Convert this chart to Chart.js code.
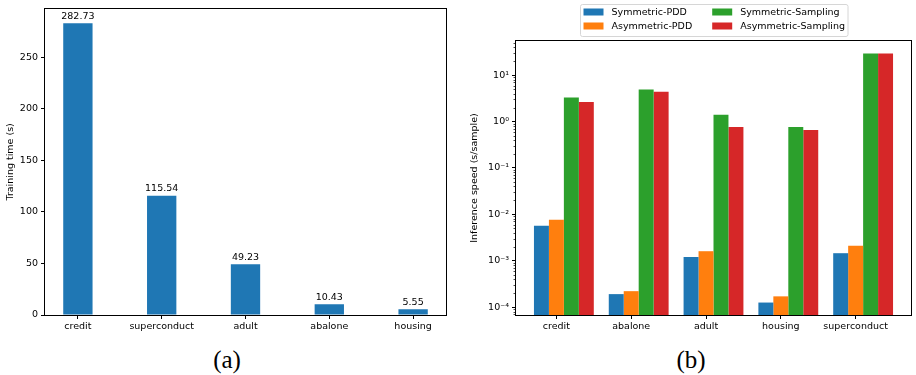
<!DOCTYPE html>
<html>
<head>
<meta charset="utf-8">
<script src="https://cdn.jsdelivr.net/npm/chart.js@4.4.1/dist/chart.umd.min.js"></script>
<style>
  body { margin: 0; background: #fff; width: 916px; height: 375px; position: relative; overflow: hidden; }
  .panel { position: absolute; top: 0; }
  .caption { position: absolute; font-family: 'Liberation Serif', serif; font-size: 25px; line-height: 1; text-align: center; width: 80px; color: #000; }
</style>
</head>
<body>
<div class="panel" style="left:0"><canvas id="train" width="460" height="340"></canvas></div>
<div class="panel" style="left:460px"><canvas id="infer" width="456" height="340"></canvas></div>
<div class="caption" style="left:187px; top:347px">(a)</div>
<div class="caption" style="left:651px; top:347px">(b)</div>
<script>
// (a) training time per dataset
const trainCategories = ['credit', 'superconduct', 'adult', 'abalone', 'housing'];
const trainTimes = [282.73, 115.54, 49.23, 10.43, 5.55];
const trainYTicks = [0, 50, 100, 150, 200, 250];

// (b) inference speed, s/sample
const inferCategories = ['credit', 'abalone', 'adult', 'housing', 'superconduct'];
const symmetricPdd = [5.7e-3, 1.9e-4, 1.2e-3, 1.25e-4, 1.45e-3];
const asymmetricPdd = [7.6e-3, 2.2e-4, 1.6e-3, 1.7e-4, 2.1e-3];
const symmetricSampling = [3.3, 4.9, 1.4, 0.76, 29.5];
const asymmetricSampling = [2.65, 4.4, 0.76, 0.66, 29.5];
const inferYTicks = [-4, -3, -2, -1, 0, 1];

const FONT = 'DejaVu Sans';
Chart.defaults.font.family = FONT;
Chart.defaults.font.size = 9.5;
Chart.defaults.color = '#000';
Chart.defaults.animation = false;

const SUP = { '-': '\u207b', '0': '\u2070', '1': '\u00b9', '2': '\u00b2', '3': '\u00b3', '4': '\u2074',
  '5': '\u2075', '6': '\u2076', '7': '\u2077', '8': '\u2078', '9': '\u2079' };
const sup = (n) => String(n).split('').map(c => SUP[c]).join('');

// matplotlib draws all four spines
const framePlugin = {
  id: 'frame',
  afterDatasetsDraw(chart) {
    const { ctx, chartArea: a } = chart;
    ctx.save();
    ctx.strokeStyle = '#000';
    ctx.lineWidth = 1;
    const l = Math.round(a.left) - 0.5, t = Math.round(a.top) - 0.5;
    const r = Math.round(a.right) + 0.5, b = Math.round(a.bottom) + 0.5;
    ctx.strokeRect(l, t, r - l, b - t);
    ctx.restore();
  }
};

const barLabelPlugin = {
  id: 'barLabels',
  afterDatasetsDraw(chart) {
    const { ctx } = chart;
    ctx.save();
    ctx.font = '9.5px "' + FONT + '"';
    ctx.fillStyle = '#000';
    ctx.textAlign = 'center';
    ctx.textBaseline = 'alphabetic';
    chart.getDatasetMeta(0).data.forEach((bar, i) => {
      ctx.fillText(trainTimes[i].toFixed(2), bar.x, bar.y - 4.5);
    });
    ctx.restore();
  }
};

const minorTickPlugin = {
  id: 'minorTicks',
  afterDraw(chart) {
    const { ctx } = chart;
    const y = chart.scales.y;
    ctx.save();
    ctx.strokeStyle = '#000';
    ctx.lineWidth = 0.7;
    ctx.beginPath();
    for (let e = Math.floor(Math.log10(y.min)); e <= Math.ceil(Math.log10(y.max)); e++) {
      for (let m = 2; m <= 9; m++) {
        const v = m * Math.pow(10, e);
        if (v < y.min || v > y.max) continue;
        const py = Math.round(y.getPixelForValue(v)) + 0.5;
        ctx.moveTo(y.right - 2.5, py);
        ctx.lineTo(y.right, py);
      }
    }
    ctx.stroke();
    ctx.restore();
  }
};

// two-column legend laid out column-first, like matplotlib ncol=2
const gridLegendPlugin = {
  id: 'gridLegend',
  afterDraw(chart) {
    const { ctx, chartArea: a } = chart;
    const sets = chart.data.datasets;
    const rows = 2, cols = Math.ceil(sets.length / rows);
    const handleW = 20, handleH = 7, textPad = 8, colGap = 20, pad = 3;
    ctx.save();
    ctx.font = '9.5px "' + FONT + '"';
    const colWidths = [];
    for (let c = 0; c < cols; c++) {
      let w = 0;
      for (let r = 0; r < rows; r++) {
        const ds = sets[c * rows + r];
        if (ds) w = Math.max(w, ctx.measureText(ds.label).width);
      }
      colWidths.push(handleW + textPad + w);
    }
    const boxW = pad * 2 + colWidths.reduce((s, w) => s + w, 0) + colGap * (cols - 1);
    const boxH = 32, boxTop = 4.5;
    const boxLeft = Math.round((a.left + a.right) / 2 - boxW / 2) + 0.5;

    ctx.beginPath();
    ctx.roundRect(boxLeft, boxTop, boxW, boxH, 2);
    ctx.fillStyle = 'rgba(255,255,255,0.8)';
    ctx.fill();
    ctx.strokeStyle = '#d6d6d6';
    ctx.lineWidth = 1;
    ctx.stroke();

    ctx.textBaseline = 'middle';
    ctx.textAlign = 'left';
    let x = boxLeft + pad;
    for (let c = 0; c < cols; c++) {
      for (let r = 0; r < rows; r++) {
        const ds = sets[c * rows + r];
        if (!ds) continue;
        const cy = boxTop + 7.5 + r * 14;
        ctx.fillStyle = ds.backgroundColor;
        ctx.fillRect(x, cy - handleH / 2, handleW, handleH);
        ctx.fillStyle = '#000';
        ctx.fillText(ds.label, x + handleW + textPad, cy + 0.5);
      }
      x += colWidths[c] + colGap;
    }
    ctx.restore();
  }
};

const tickGrid = { display: true, drawOnChartArea: false, drawTicks: true, tickLength: 4, color: '#000', lineWidth: 1, offset: false };

// ---- (a) ----
const trainBarWidth = 0.35;
const trainPadX = 0.05 * ((trainCategories.length - 1) + trainBarWidth);
new Chart(document.getElementById('train'), {
  type: 'bar',
  data: {
    datasets: [{
      label: 'Training time',
      data: trainTimes.map((v, i) => ({ x: i, y: v })),
      backgroundColor: '#1f77b4',
      categoryPercentage: 1,
      barPercentage: trainBarWidth
    }]
  },
  options: {
    responsive: false,
    devicePixelRatio: 1,
    layout: { padding: { top: 3, right: 14, left: 0, bottom: 0 } },
    plugins: { legend: { display: false }, tooltip: { enabled: false } },
    scales: {
      x: {
        type: 'linear',
        offset: false,
        bounds: 'data',
        min: -trainBarWidth / 2 - trainPadX,
        max: trainCategories.length - 1 + trainBarWidth / 2 + trainPadX,
        afterBuildTicks: (s) => { s.ticks = trainCategories.map((_, i) => ({ value: i })); },
        afterFit: (s) => { s.height = 25; },
        grid: tickGrid,
        border: { display: false },
        ticks: { maxRotation: 0, autoSkip: false, padding: 2, callback: (v) => trainCategories[v] }
      },
      y: {
        bounds: 'data',
        min: 0,
        max: Math.max(...trainTimes) * 1.05,
        afterBuildTicks: (s) => { s.ticks = trainYTicks.map(v => ({ value: v })); },
        afterFit: (s) => { s.width = 45; },
        grid: tickGrid,
        border: { display: false },
        ticks: { padding: 3 },
        title: { display: true, text: 'Training time (s)', padding: { top: 5, bottom: 0 } }
      }
    }
  },
  plugins: [barLabelPlugin, framePlugin]
});

// ---- (b) ----
const inferSeries = [
  ['Symmetric-PDD', symmetricPdd, '#1f77b4'],
  ['Asymmetric-PDD', asymmetricPdd, '#ff7f0e'],
  ['Symmetric-Sampling', symmetricSampling, '#2ca02c'],
  ['Asymmetric-Sampling', asymmetricSampling, '#d62728']
];
// matplotlib bars were placed at i-0.2, i, i+0.2, i+0.4, so each group centre sits at i+0.1
const groupShift = 0.1, groupWidth = 0.8;
const inferLo = -groupWidth / 2 + groupShift, inferHi = inferCategories.length - 1 + groupWidth / 2 + groupShift;
const inferPadX = 0.05 * (inferHi - inferLo);
const allInfer = [].concat(symmetricPdd, asymmetricPdd, symmetricSampling, asymmetricSampling);
const logLo = Math.log10(Math.min(...allInfer)), logHi = Math.log10(Math.max(...allInfer));
const logPad = 0.05 * (logHi - logLo);

new Chart(document.getElementById('infer'), {
  type: 'bar',
  data: {
    datasets: inferSeries.map(([label, vals, color]) => ({
      label,
      data: vals.map((v, i) => ({ x: i + groupShift, y: v })),
      backgroundColor: color,
      categoryPercentage: groupWidth,
      barPercentage: 1
    }))
  },
  options: {
    responsive: false,
    devicePixelRatio: 1,
    layout: { padding: { top: 41, right: 5, left: 0, bottom: 0 } },
    plugins: { legend: { display: false }, tooltip: { enabled: false } },
    scales: {
      x: {
        type: 'linear',
        offset: false,
        bounds: 'data',
        min: inferLo - inferPadX,
        max: inferHi + inferPadX,
        afterBuildTicks: (s) => { s.ticks = inferCategories.map((_, i) => ({ value: i })); },
        afterFit: (s) => { s.height = 25; },
        grid: tickGrid,
        border: { display: false },
        ticks: { maxRotation: 0, autoSkip: false, padding: 2, callback: (v) => inferCategories[v] }
      },
      y: {
        type: 'logarithmic',
        min: Math.pow(10, logLo - logPad),
        max: Math.pow(10, logHi + logPad),
        afterBuildTicks: (s) => { s.ticks = inferYTicks.map(e => ({ value: Math.pow(10, e) })); },
        afterFit: (s) => { s.width = 56; },
        grid: tickGrid,
        border: { display: false },
        ticks: { padding: 3, autoSkip: false, callback: (v) => '10' + sup(Math.round(Math.log10(v))) },
        title: { display: true, text: 'Inference speed (s/sample)', padding: { top: 9, bottom: 0 } }
      }
    }
  },
  plugins: [framePlugin, minorTickPlugin, gridLegendPlugin]
});
</script>
</body>
</html>
